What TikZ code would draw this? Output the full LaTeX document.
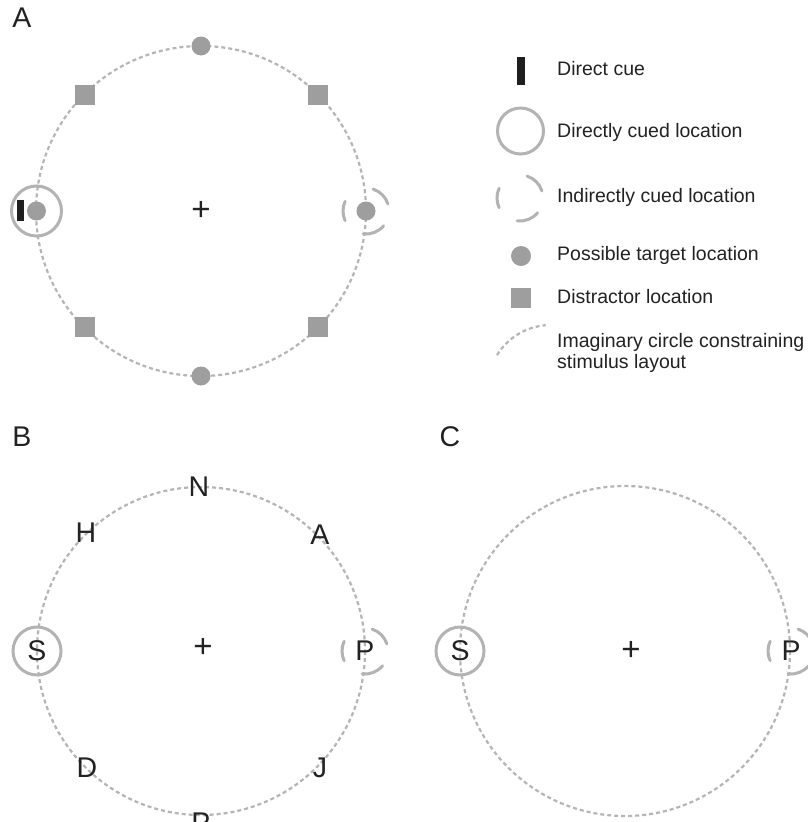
\documentclass[tikz,border=0pt]{standalone}
\usepackage{fontspec}
\setmainfont{Liberation Sans}
\definecolor{ringgray}{HTML}{B3B3B3}
\definecolor{dashgray}{HTML}{B5B5B5}
\definecolor{dotgray}{HTML}{9E9E9E}
\definecolor{txt}{HTML}{222222}
\tikzset{
 guide/.style={draw=dashgray, line width=2.2pt, dash pattern=on 4pt off 3pt},
 ring/.style={draw=ringgray, line width=3pt, line cap=round},
 target/.style={circle, fill=dotgray, inner sep=0pt, minimum size=19pt},
 distractor/.style={rectangle, fill=dotgray, inner sep=0pt, minimum size=20pt},
 cuebar/.style={rectangle, fill=black!88, inner sep=0pt},
 letter/.style={font=\fontsize{28.5}{30}\selectfont, text=txt, inner sep=0pt},
 fixcross/.style={font=\fontsize{33}{33}\selectfont, text=txt, inner sep=0pt},
 legtext/.style={font=\fontsize{19.5}{21}\selectfont, text=txt, anchor=west, inner sep=0pt, align=left},
}
\newcommand\indring[1]{%
 \draw[ring] (#1) ++(-155:23) arc[start angle=-155, end angle=-205, radius=23];
 \draw[ring] (#1) ++(-18:23) arc[start angle=-18, end angle=-72, radius=23];
 \draw[ring] (#1) ++(40:23) arc[start angle=40, end angle=97, radius=23];
}
\begin{document}
\begin{tikzpicture}[x=1pt, y=-1pt]
\useasboundingbox[fill=white] (0,0) rectangle (807,822);

% ---------- Panel A ----------
\node[letter] (labA) at (22,18) {A};
\coordinate (cA) at (201,211);
\draw[guide] (cA) circle[radius=165];
\node[fixcross] (fixA) at (cA) {+};
\node[target] (tTop) at (201,46) {};
\node[target] (tBot) at (201,376) {};
\node[target] (tLeft) at (36.5,211) {};
\node[target] (tRight) at (366,211) {};
\node[distractor] (d1) at (85,95) {};
\node[distractor] (d2) at (318,95) {};
\node[distractor] (d3) at (85,327) {};
\node[distractor] (d4) at (318,327) {};
\draw[ring] (tLeft) circle[radius=25];
\node[cuebar, minimum width=7pt, minimum height=21pt] (cueA) at (20.5,210) {};
\indring{tRight}

% ---------- Legend ----------
\node[cuebar, minimum width=8pt, minimum height=28pt] (lgBar) at (521,71) {};
\node[legtext] (lgT1) at (557,69) {Direct cue};
\coordinate (lgRing) at (520.5,131);
\draw[ring] (lgRing) circle[radius=23];
\node[legtext] (lgT2) at (557,132) {Directly cued location};
\coordinate (lgInd) at (520,198);
\indring{lgInd}
\node[legtext] (lgT3) at (557,197) {Indirectly cued location};
\node[target, minimum size=20pt] (lgDot) at (521,256) {};
\node[legtext] (lgT4) at (557,255) {Possible target location};
\node[distractor] (lgSq) at (521,298) {};
\node[legtext] (lgT5) at (557,297) {Distractor location};
\draw[guide] (497,355) arc[start angle=-148, end angle=-95, radius=64];
\node[legtext] (lgT6) at (557,352.5) {Imaginary circle constraining\\stimulus layout};

% ---------- Panel B ----------
\node[letter] (labB) at (22,437) {B};
\coordinate (cB) at (201,651);
\draw[guide] (cB) circle[radius=164];
\node[fixcross] (fixB) at (203,648) {+};
\node[letter] (bN) at (199,487) {N};
\node[letter] (bH) at (86,533) {H};
\node[letter] (bA) at (320,535) {A};
\node[letter] (bS) at (37,651) {S};
\node[letter] (bP) at (365,651) {P};
\node[letter] (bD) at (87,768) {D};
\node[letter] (bJ) at (320,768) {J};
\node[letter] (bP2) at (201,823) {P};
\draw[ring] (bS) circle[radius=24];
\indring{bP}

% ---------- Panel C ----------
\node[letter] (labC) at (450,437) {C};
\coordinate (cC) at (625,651);
\draw[guide] (cC) circle[radius=165];
\node[fixcross] (fixC) at (631,651) {+};
\node[letter] (cS) at (460,651) {S};
\node[letter] (cP) at (791,651) {P};
\draw[ring] (cS) circle[radius=24];
\indring{cP}
\end{tikzpicture}
\end{document}
